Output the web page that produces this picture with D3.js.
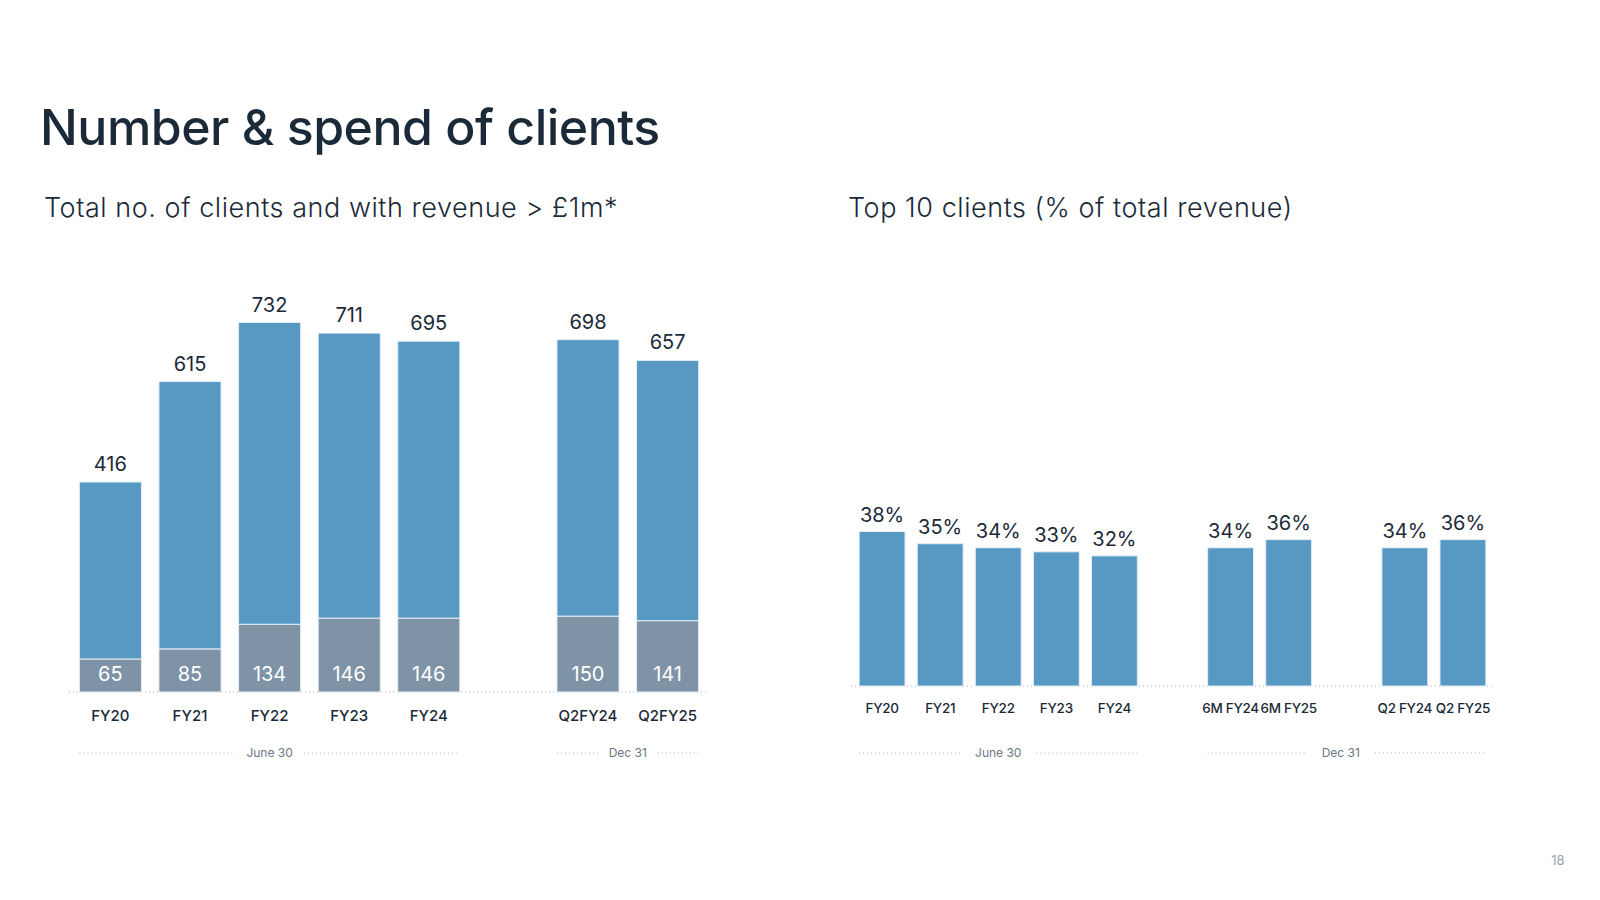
<!DOCTYPE html>
<html>
<head>
<meta charset="utf-8">
<script src="https://cdn.jsdelivr.net/npm/d3@7"></script>
<style>
  html, body { margin: 0; padding: 0; background: #ffffff; }
  svg { display: block; }
  text { font-family: Inter, "Open Sans", sans-serif; }
</style>
</head>
<body>
<svg id="chart" width="1600" height="900"></svg>
<script>
// ---------- DATA ----------
const titleText = "Number & spend of clients";
const leftSubtitle = "Total no. of clients and with revenue > £1m*";
const rightSubtitle = "Top 10 clients (% of total revenue)";
const pageNumber = "18";

const leftCategories = ["FY20", "FY21", "FY22", "FY23", "FY24", "Q2FY24", "Q2FY25"];
const leftTotals = [416, 615, 732, 711, 695, 698, 657];
const leftOver1m = [65, 85, 134, 146, 146, 150, 141];
const leftSlots = ["FY20", "FY21", "FY22", "FY23", "FY24", "gap1", "Q2FY24", "Q2FY25"];
const leftGroups = [
  { label: "June 30", from: "FY20", to: "FY24" },
  { label: "Dec 31", from: "Q2FY24", to: "Q2FY25" }
];

const rightCategories = ["FY20", "FY21", "FY22", "FY23", "FY24", "6M FY24", "6M FY25", "Q2 FY24", "Q2 FY25"];
const rightValues = [38, 35, 34, 33, 32, 34, 36, 34, 36];
const rightSlots = ["FY20", "FY21", "FY22", "FY23", "FY24", "gap1", "6M FY24", "6M FY25", "gap2", "Q2 FY24", "Q2 FY25"];
const rightGroups = [
  { label: "June 30", from: "FY20", to: "FY24" },
  { label: "Dec 31", from: "6M FY24", to: "Q2 FY25" }
];

// ---------- STYLE ----------
const DARK = "#1b2a38";
const BLUE = "#5899c4";
const GREY = "#7f93a6";
const MUTED = "#6b7783";
const DOT = "#a9b0b7";

const svg = d3.select("#chart");

// Title & subtitles
svg.append("text").attr("x", 40).attr("y", 145)
  .attr("font-size", 50).attr("font-weight", 500).attr("fill", DARK)
  .attr("letter-spacing", -0.5)
  .text(titleText);
svg.append("text").attr("x", 44).attr("y", 217)
  .attr("font-size", 27).attr("font-weight", 300).attr("fill", DARK)
  .attr("letter-spacing", 0.55)
  .text(leftSubtitle);
svg.append("text").attr("x", 848).attr("y", 217)
  .attr("font-size", 27).attr("font-weight", 300).attr("fill", DARK)
  .attr("letter-spacing", 0.55)
  .text(rightSubtitle);
svg.append("text").attr("x", 1558).attr("y", 865)
  .attr("text-anchor", "middle").attr("font-size", 13).attr("fill", "#9aa3ab")
  .text(pageNumber);

function groupLabels(g, x, groups, y, gap, shift) {
  groups.forEach((gr, i) => {
    const x0 = x(gr.from), x1 = x(gr.to) + x.bandwidth();
    const cx = (x0 + x1) / 2 + (shift ? shift[i] : 0);
    const t = g.append("text").attr("x", cx).attr("y", y)
      .attr("text-anchor", "middle").attr("font-size", 12).attr("fill", MUTED)
      .text(gr.label);
    const w = t.node().getComputedTextLength();
    g.append("line").attr("x1", x0).attr("x2", cx - w / 2 - gap)
      .attr("y1", y - 4).attr("y2", y - 4)
      .attr("stroke", DOT).attr("stroke-width", 1).attr("stroke-dasharray", "1,3");
    g.append("line").attr("x1", cx + w / 2 + gap).attr("x2", x1)
      .attr("y1", y - 4).attr("y2", y - 4)
      .attr("stroke", DOT).attr("stroke-width", 1).attr("stroke-dasharray", "1,3");
  });
}

// ---------- LEFT CHART ----------
const xL = d3.scaleBand().domain(leftSlots).range([69, 709]).paddingInner(0.22).paddingOuter(0.13);
const yL = d3.scaleLinear().domain([0, 732]).range([692, 322.5]);
const leftData = leftCategories.map((c, i) => ({ cat: c, total: leftTotals[i], big: leftOver1m[i] }));
const gL = svg.append("g");

gL.append("line").attr("x1", 69).attr("x2", 709).attr("y1", yL(0)).attr("y2", yL(0))
  .attr("stroke", DOT).attr("stroke-width", 1).attr("stroke-dasharray", "1,3");

gL.selectAll("rect.top").data(leftData).join("rect").attr("class", "top")
  .attr("x", d => xL(d.cat)).attr("width", xL.bandwidth())
  .attr("y", d => yL(d.total)).attr("height", d => yL(d.big) - yL(d.total))
  .attr("fill", BLUE).attr("stroke", "#e4eef6").attr("stroke-width", 1);
gL.selectAll("rect.bot").data(leftData).join("rect").attr("class", "bot")
  .attr("x", d => xL(d.cat)).attr("width", xL.bandwidth())
  .attr("y", d => yL(d.big)).attr("height", d => yL(0) - yL(d.big))
  .attr("fill", GREY).attr("stroke", "#e4eef6").attr("stroke-width", 1);

gL.selectAll("text.tot").data(leftData).join("text").attr("class", "tot")
  .attr("x", d => xL(d.cat) + xL.bandwidth() / 2).attr("y", d => yL(d.total) - 11)
  .attr("text-anchor", "middle").attr("font-size", 20).attr("fill", DARK)
  .text(d => d.total);
gL.selectAll("text.in").data(leftData).join("text").attr("class", "in")
  .attr("x", d => xL(d.cat) + xL.bandwidth() / 2).attr("y", yL(0) - 11)
  .attr("text-anchor", "middle").attr("font-size", 20).attr("fill", "#ffffff")
  .text(d => d.big);

const axL = gL.append("g").attr("transform", `translate(0,${yL(0)})`)
  .call(d3.axisBottom(xL).tickValues(leftCategories).tickSize(0).tickPadding(18));
axL.select(".domain").remove();
axL.selectAll("text").attr("font-size", 15).attr("font-weight", 500).attr("fill", DARK)
  .attr("font-family", "Inter, sans-serif");

groupLabels(gL, xL, leftGroups, 757, 11);

// ---------- RIGHT CHART ----------
const xR = d3.scaleBand().domain(rightSlots).range([851, 1494]).paddingInner(0.21).paddingOuter(0.14);
const yR = d3.scaleLinear().domain([0, 38]).range([686, 531.5]);
const rightData = rightCategories.map((c, i) => ({ cat: c, v: rightValues[i] }));
const gR = svg.append("g");

gR.append("line").attr("x1", 851).attr("x2", 1494).attr("y1", yR(0)).attr("y2", yR(0))
  .attr("stroke", DOT).attr("stroke-width", 1).attr("stroke-dasharray", "1,3");

gR.selectAll("rect").data(rightData).join("rect")
  .attr("x", d => xR(d.cat)).attr("width", xR.bandwidth())
  .attr("y", d => yR(d.v)).attr("height", d => yR(0) - yR(d.v))
  .attr("fill", BLUE).attr("stroke", "#e4eef6").attr("stroke-width", 1);

gR.selectAll("text.val").data(rightData).join("text").attr("class", "val")
  .attr("x", d => xR(d.cat) + xR.bandwidth() / 2).attr("y", d => yR(d.v) - 10)
  .attr("text-anchor", "middle").attr("font-size", 20).attr("fill", DARK)
  .text(d => d.v + "%");

const axR = gR.append("g").attr("transform", `translate(0,${yR(0)})`)
  .call(d3.axisBottom(xR).tickValues(rightCategories).tickSize(0).tickPadding(17));
axR.select(".domain").remove();
axR.selectAll("text").attr("font-size", 13.5).attr("font-weight", 500).attr("fill", DARK)
  .attr("letter-spacing", -0.3)
  .attr("font-family", "Inter, sans-serif");

groupLabels(gR, xR, rightGroups, 757, 15, [0, -6]);
</script>
</body>
</html>
